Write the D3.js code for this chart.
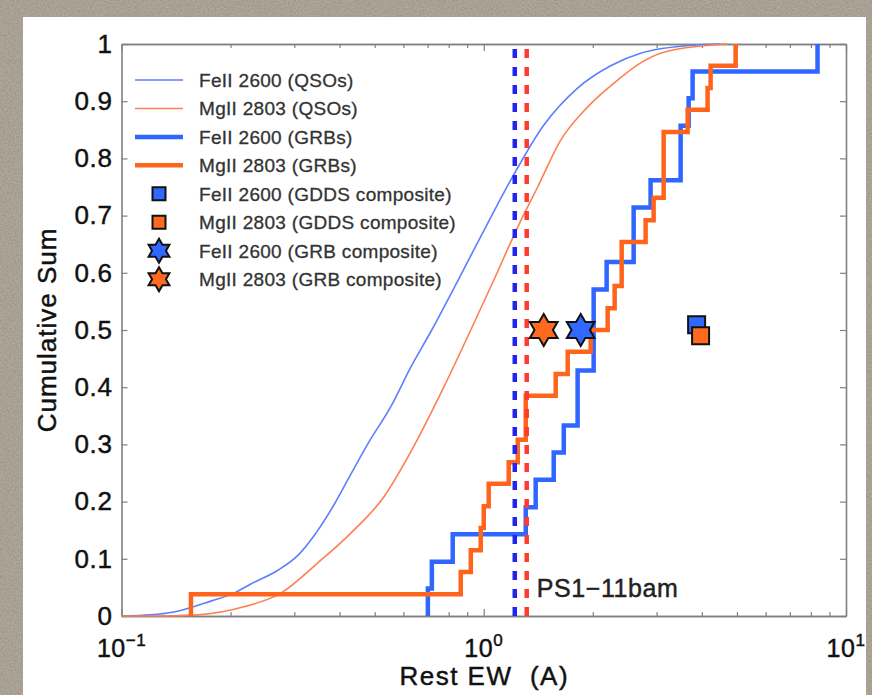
<!DOCTYPE html>
<html>
<head>
<meta charset="utf-8">
<script src="https://cdn.jsdelivr.net/npm/d3@7"></script>
<style>
  body { margin: 0; background: #a89f93; overflow: hidden; }
  svg { display: block; }
  text { font-family: "Liberation Sans", Arial, Helvetica, sans-serif; stroke-width: 0.45px; }
</style>
</head>
<body>
<div class="main-graph"></div>
<script>
// QSO cumulative distributions
const qsoFeEW  = [0.10, 0.1206, 0.1396, 0.1765, 0.2043, 0.2276, 0.2702, 0.3068, 0.3396, 0.3857, 0.4297, 0.4786, 0.5539, 0.6289, 0.7185, 0.864, 1.026, 1.187, 1.464, 1.816, 2.240, 2.711, 3.796, 4.506];
const qsoFeCum = [0, 0.002, 0.007, 0.026, 0.040, 0.056, 0.080, 0.106, 0.140, 0.194, 0.248, 0.301, 0.366, 0.435, 0.500, 0.596, 0.687, 0.762, 0.858, 0.923, 0.962, 0.984, 0.998, 1.0];
const qsoMgEW  = [0.10, 0.1285, 0.1626, 0.2177, 0.2754, 0.3484, 0.4297, 0.5298, 0.6289, 0.7757, 0.9208, 1.0656, 1.2412, 1.4089, 1.6313, 1.9364, 2.3428, 2.7108, 3.0774, 4.229, 4.710];
const qsoMgCum = [0, 0, 0.002, 0.016, 0.040, 0.093, 0.145, 0.208, 0.287, 0.400, 0.500, 0.587, 0.680, 0.750, 0.832, 0.890, 0.937, 0.967, 0.984, 0.998, 1.0];

// GRB step distributions: EW where each step happens, cumulative value after it
const grbFeEW  = [0.701, 0.719, 0.821, 1.306, 1.391, 1.560, 1.663, 1.816, 2.011, 2.184, 2.593, 2.888, 3.495, 3.678, 3.772, 8.345];
const grbFeCum = [0.048, 0.095, 0.143, 0.190, 0.238, 0.286, 0.333, 0.429, 0.571, 0.619, 0.714, 0.762, 0.857, 0.905, 0.952, 1.0];
const grbMgEW  = [0.1555, 0.864, 0.921, 0.981, 1.0, 1.032, 1.172, 1.241, 1.306, 1.580, 1.705, 1.973, 2.198, 2.298, 2.403, 2.798, 2.944, 3.138, 3.655, 4.149, 4.229, 4.958];
const grbMgCum = [0.038, 0.077, 0.115, 0.154, 0.192, 0.231, 0.269, 0.308, 0.385, 0.423, 0.462, 0.500, 0.538, 0.577, 0.654, 0.692, 0.731, 0.846, 0.885, 0.923, 0.962, 1.0];

// PS1-11bam values (dashed lines)
const ps1FeEW = 1.218;
const ps1MgEW = 1.314;

// composites [EW, cum]
const gddsFe = [3.869, 0.509];
const gddsMg = [3.968, 0.490];
const grbCompFe = [1.852, 0.5];
const grbCompMg = [1.464, 0.5];

const yTicks = [0, 0.1, 0.2, 0.3, 0.4, 0.5, 0.6, 0.7, 0.8, 0.9, 1];
const yTickLabels = ["0", "0.1", "0.2", "0.3", "0.4", "0.5", "0.6", "0.7", "0.8", "0.9", "1"];
const xDecades = [0.1, 1, 10];
const xDecadeExp = ["\u22121", "0", "1"];
const xMinor = [0.2, 0.3, 0.4, 0.5, 0.6, 0.7, 0.8, 0.9, 2, 3, 4, 5, 6, 7, 8, 9];

const legendLabels = ["FeII 2600 (QSOs)", "MgII 2803 (QSOs)", "FeII 2600 (GRBs)", "MgII 2803 (GRBs)",
  "FeII 2600 (GDDS composite)", "MgII 2803 (GDDS composite)", "FeII 2600 (GRB composite)", "MgII 2803 (GRB composite)"];

const blueThin = "#5b7fff", orangeThin = "#ff7f52";
const blueThick = "#2f66ff", orangeThick = "#ff641c";
const blueFill = "#3168ff", orangeFill = "#ff6a1e";

var W = 872, H = 695;
var margin = {top: 44, right: 26, bottom: 79, left: 121.5},
    width = W - margin.left - margin.right,
    height = H - margin.top - margin.bottom;

var root = d3.select(".main-graph").append("svg")
    .attr("width", W).attr("height", H);

// textured slide background
var defs = root.append("defs");
var f = defs.append("filter").attr("id", "grain").attr("x", 0).attr("y", 0).attr("width", "100%").attr("height", "100%");
f.append("feTurbulence").attr("type", "fractalNoise").attr("baseFrequency", 0.6).attr("numOctaves", 3).attr("seed", 7);
f.append("feColorMatrix").attr("type", "matrix")
  .attr("values", "0 0 0 0 0.30  0 0 0 0 0.27  0 0 0 0 0.23  1.6 0 0 0 -0.55");
root.append("rect").attr("width", W).attr("height", H).attr("fill", "#b0a799");
root.append("rect").attr("width", W).attr("height", H).attr("filter", "url(#grain)");
root.append("rect").attr("x", 23).attr("y", 17).attr("width", 843).attr("height", H)
  .attr("fill", "#ffffff");

var svg = root.append("g")
    .attr("transform", "translate(" + margin.left + "," + margin.top + ")");

var x = d3.scaleLog().domain([0.1, 10]).range([0, width]);
var y = d3.scaleLinear().domain([0, 1]).range([height, 0]);

// frame + ticks (MATLAB style, ticks inside)
var axisColor = "#808080";
function styleAxis(g) {
  g.selectAll(".domain").attr("stroke", axisColor).attr("stroke-width", 1.6);
  g.selectAll(".tick line").attr("stroke", axisColor).attr("stroke-width", 1.2);
}
svg.append("g").attr("transform", "translate(0," + height + ")")
  .call(d3.axisBottom(x).tickValues(xMinor).tickSize(-4).tickSizeOuter(0).tickFormat(""))
  .call(styleAxis);
svg.append("g").attr("transform", "translate(0," + height + ")")
  .call(d3.axisBottom(x).tickValues(xDecades).tickSize(-7).tickSizeOuter(0).tickFormat(""))
  .call(styleAxis);
svg.append("g")
  .call(d3.axisTop(x).tickValues(xMinor).tickSize(-4).tickSizeOuter(0).tickFormat(""))
  .call(styleAxis);
svg.append("g")
  .call(d3.axisTop(x).tickValues(xDecades).tickSize(-7).tickSizeOuter(0).tickFormat(""))
  .call(styleAxis);
var yAxis = svg.append("g")
  .call(d3.axisLeft(y).tickValues(yTicks).tickSize(-6).tickSizeOuter(0).tickPadding(9)
        .tickFormat((d, i) => yTickLabels[i]))
  .call(styleAxis);
yAxis.selectAll(".tick text").attr("fill", "#111").attr("stroke", "#111")
  .style("font-size", "26px").style("letter-spacing", "0.6px")
  .attr("font-family", null);
svg.append("g").attr("transform", "translate(" + width + ",0)")
  .call(d3.axisRight(y).tickValues(yTicks).tickSize(-6).tickSizeOuter(0).tickFormat(""))
  .call(styleAxis);

// x tick labels with exponents
var xl = svg.selectAll(".xlab").data(xDecades).enter().append("text")
  .attr("class", "xlab")
  .attr("x", d => x(d))
  .attr("y", height + 41)
  .attr("text-anchor", "middle")
  .attr("fill", "#111").attr("stroke", "#111")
  .style("font-size", "25px")
  .style("letter-spacing", "0.5px");
xl.append("tspan").text("10");
xl.append("tspan").attr("dy", -11).style("font-size", "17px").text((d, i) => xDecadeExp[i]);

// axis labels
svg.append("text")
  .attr("x", width / 2 + 0.5).attr("y", height + 69)
  .attr("text-anchor", "middle").attr("fill", "#111").attr("stroke", "#111")
  .style("font-size", "26px").style("letter-spacing", "1.5px")
  .attr("xml:space", "preserve")
  .text("Rest EW  (A)");
svg.append("text")
  .attr("text-anchor", "middle").attr("fill", "#111").attr("stroke", "#111")
  .style("font-size", "26px").style("letter-spacing", "1px")
  .attr("transform", "translate(" + (-66) + "," + (height / 2) + ")rotate(-90)")
  .text("Cumulative Sum");

// QSO curves
var smooth = d3.line().x(d => x(d[0])).y(d => y(d[1])).curve(d3.curveMonotoneX);
svg.append("path").attr("d", smooth(d3.zip(qsoFeEW, qsoFeCum)))
  .attr("fill", "none").attr("stroke", blueThin).attr("stroke-width", 1.6);
svg.append("path").attr("d", smooth(d3.zip(qsoMgEW, qsoMgCum)))
  .attr("fill", "none").attr("stroke", orangeThin).attr("stroke-width", 1.6);

// GRB stairs
var stairs = d3.line().x(d => x(d[0])).y(d => y(d[1])).curve(d3.curveStepAfter);
function stepPoints(ew, cum) {
  return [[ew[0], 0]].concat(d3.zip(ew, cum));
}
svg.append("path").attr("d", stairs(stepPoints(grbFeEW, grbFeCum)))
  .attr("fill", "none").attr("stroke", blueThick).attr("stroke-width", 4.5);
svg.append("path").attr("d", stairs(stepPoints(grbMgEW, grbMgCum)))
  .attr("fill", "none").attr("stroke", orangeThick).attr("stroke-width", 4.5);

// PS1-11bam dashed lines
[[ps1FeEW, "#2323f0"], [ps1MgEW, "#ff3a30"]].forEach(function(p) {
  svg.append("line")
    .attr("x1", x(p[0])).attr("x2", x(p[0]))
    .attr("y1", y(0)).attr("y2", y(1))
    .attr("stroke", p[1]).attr("stroke-width", 4.5)
    .attr("stroke-dasharray", "9,9");
});
svg.append("text")
  .attr("x", x(ps1MgEW) + 10).attr("y", y(0) - 19)
  .attr("fill", "#222").attr("stroke", "#222")
  .style("font-size", "25px").style("letter-spacing", "0.6px")
  .text("PS1\u221211bam");

// markers
function hexagram(R) {
  var pts = d3.range(12).map(i => {
    var r = i % 2 ? R / Math.sqrt(3) : R;
    var a = -Math.PI / 2 + i * Math.PI / 6;
    return [r * Math.cos(a), r * Math.sin(a)];
  });
  return "M" + pts.join("L") + "Z";
}
function square(s) { return d3.symbol().type(d3.symbolSquare).size(s * s)(); }

svg.append("path").attr("d", square(17))
  .attr("transform", "translate(" + x(gddsFe[0]) + "," + y(gddsFe[1]) + ")")
  .attr("fill", blueFill).attr("stroke", "#111").attr("stroke-width", 2);
svg.append("path").attr("d", square(17))
  .attr("transform", "translate(" + x(gddsMg[0]) + "," + y(gddsMg[1]) + ")")
  .attr("fill", orangeFill).attr("stroke", "#111").attr("stroke-width", 2);
svg.append("path").attr("d", hexagram(16))
  .attr("transform", "translate(" + x(grbCompFe[0]) + "," + y(grbCompFe[1]) + ")")
  .attr("fill", blueFill).attr("stroke", "#111").attr("stroke-width", 2).attr("stroke-linejoin", "miter");
svg.append("path").attr("d", hexagram(16))
  .attr("transform", "translate(" + x(grbCompMg[0]) + "," + y(grbCompMg[1]) + ")")
  .attr("fill", orangeFill).attr("stroke", "#111").attr("stroke-width", 2).attr("stroke-linejoin", "miter");

// legend
var lg = root.append("g");
var legY0 = 80, legDy = 28.45;
legendLabels.forEach(function(lab, i) {
  var cy = legY0 + i * legDy;
  if (i < 4) {
    lg.append("line").attr("x1", 135).attr("x2", 183).attr("y1", cy).attr("y2", cy)
      .attr("stroke", [blueThin, orangeThin, blueThick, orangeThick][i])
      .attr("stroke-width", i < 2 ? 1.6 : 4.5);
  } else if (i < 6) {
    lg.append("path").attr("d", square(13))
      .attr("transform", "translate(159," + cy + ")")
      .attr("fill", i === 4 ? blueFill : orangeFill).attr("stroke", "#111").attr("stroke-width", 2);
  } else {
    lg.append("path").attr("d", hexagram(12))
      .attr("transform", "translate(159," + cy + ")")
      .attr("fill", i === 6 ? blueFill : orangeFill).attr("stroke", "#111").attr("stroke-width", 2);
  }
  lg.append("text").attr("x", 199).attr("y", cy + 7)
    .attr("fill", "#333").attr("stroke", "#333").style("stroke-width", "0.3px")
    .style("font-size", "19px").style("letter-spacing", "0.3px")
    .text(lab);
});
</script>
</body>
</html>
